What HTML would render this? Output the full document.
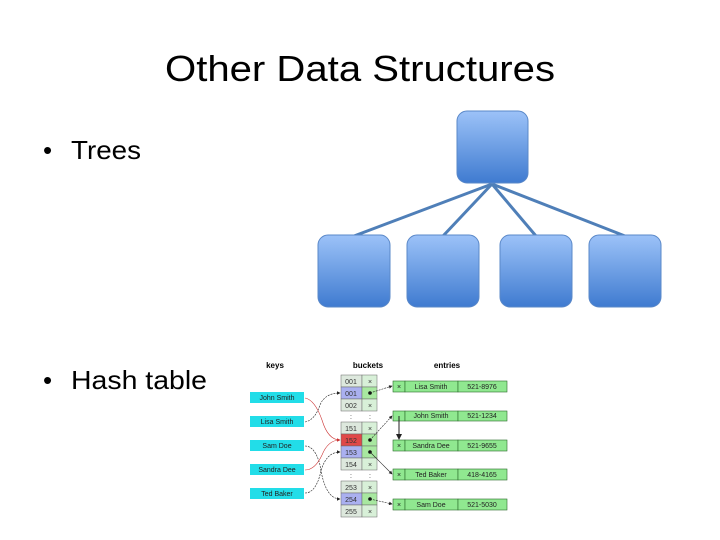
<!DOCTYPE html>
<html><head><meta charset="utf-8"><style>body{margin:0;background:#fff}svg{display:block}</style></head><body>
<svg width="720" height="540" viewBox="0 0 720 540" xmlns="http://www.w3.org/2000/svg" font-family="Liberation Sans, sans-serif">
<defs>
<linearGradient id="g" x1="0" y1="0" x2="0" y2="1"><stop offset="0" stop-color="#9cc2f8"/><stop offset="1" stop-color="#3f7bd0"/></linearGradient>
<marker id="a" markerWidth="6" markerHeight="6" refX="5" refY="3" orient="auto"><path d="M0,0L6,3L0,6z" fill="#222"/></marker>
<marker id="ar" markerWidth="6" markerHeight="6" refX="5" refY="3" orient="auto"><path d="M0,0L6,3L0,6z" fill="#c33"/></marker>
</defs>
<text x="360" y="81" font-size="36" text-anchor="middle" textLength="390" lengthAdjust="spacingAndGlyphs">Other Data Structures</text>
<text x="43" y="159" font-size="26">•</text><text x="71" y="159" font-size="26" textLength="70" lengthAdjust="spacingAndGlyphs">Trees</text>
<text x="43" y="389" font-size="26">•</text><text x="71" y="389" font-size="26" textLength="136" lengthAdjust="spacingAndGlyphs">Hash table</text>
<g stroke="#4f7fb8" stroke-width="3">
<line x1="492" y1="184" x2="354" y2="236"/><line x1="492" y1="184" x2="443" y2="236"/><line x1="492" y1="184" x2="536" y2="236"/><line x1="492" y1="184" x2="625" y2="236"/>
</g>
<g fill="url(#g)" stroke="#5a88c8" stroke-width="1">
<rect x="457" y="111" width="71" height="72" rx="10"/>
<rect x="318" y="235" width="72" height="72" rx="10"/>
<rect x="407" y="235" width="72" height="72" rx="10"/>
<rect x="500" y="235" width="72" height="72" rx="10"/>
<rect x="589" y="235" width="72" height="72" rx="10"/>
</g>
<g font-size="8" font-weight="bold" text-anchor="middle"><text x="275" y="368">keys</text><text x="368" y="368">buckets</text><text x="447" y="368">entries</text></g>
<g font-size="7" text-anchor="middle" fill="#222">
<g fill="#22dde8"><rect x="250" y="392" width="54" height="11"/><rect x="250" y="416" width="54" height="11"/><rect x="250" y="440" width="54" height="11"/><rect x="250" y="464" width="54" height="11"/><rect x="250" y="488" width="54" height="11"/></g>
<text x="277" y="400">John Smith</text><text x="277" y="424">Lisa Smith</text><text x="277" y="448">Sam Doe</text><text x="277" y="472">Sandra Dee</text><text x="277" y="496">Ted Baker</text>
</g>
<g font-size="7" text-anchor="middle" stroke="#666" stroke-width="0.5">
<rect x="341" y="375" width="21" height="12" fill="#dde8dd"/><rect x="362" y="375" width="15" height="12" fill="#d8f0d8"/>
<rect x="341" y="387" width="21" height="12" fill="#aab0f0"/><rect x="362" y="387" width="15" height="12" fill="#a8e8a0"/>
<rect x="341" y="399" width="21" height="12" fill="#dde8dd"/><rect x="362" y="399" width="15" height="12" fill="#d8f0d8"/>
<rect x="341" y="422" width="21" height="12" fill="#dde8dd"/><rect x="362" y="422" width="15" height="12" fill="#d8f0d8"/>
<rect x="341" y="434" width="21" height="12" fill="#e04848"/><rect x="362" y="434" width="15" height="12" fill="#a8e8a0"/>
<rect x="341" y="446" width="21" height="12" fill="#aab0f0"/><rect x="362" y="446" width="15" height="12" fill="#a8e8a0"/>
<rect x="341" y="458" width="21" height="12" fill="#dde8dd"/><rect x="362" y="458" width="15" height="12" fill="#d8f0d8"/>
<rect x="341" y="481" width="21" height="12" fill="#dde8dd"/><rect x="362" y="481" width="15" height="12" fill="#d8f0d8"/>
<rect x="341" y="493" width="21" height="12" fill="#aab0f0"/><rect x="362" y="493" width="15" height="12" fill="#a8e8a0"/>
<rect x="341" y="505" width="21" height="12" fill="#dde8dd"/><rect x="362" y="505" width="15" height="12" fill="#d8f0d8"/>
</g>
<g font-size="7" text-anchor="middle" fill="#333">
<text x="351" y="384">001</text><text x="351" y="396">001</text><text x="351" y="408">002</text><text x="351" y="419">:</text><text x="370" y="419">:</text>
<text x="351" y="431">151</text><text x="351" y="443">152</text><text x="351" y="455">153</text><text x="351" y="467">154</text><text x="351" y="478">:</text><text x="370" y="478">:</text>
<text x="351" y="490">253</text><text x="351" y="502">254</text><text x="351" y="514">255</text>
<text x="370" y="384">×</text><text x="370" y="408">×</text><text x="370" y="431">×</text><text x="370" y="467">×</text><text x="370" y="490">×</text><text x="370" y="514">×</text>
</g>
<g fill="#111"><circle cx="370" cy="393" r="1.8"/><circle cx="370" cy="440" r="1.8"/><circle cx="370" cy="452" r="1.8"/><circle cx="370" cy="499" r="1.8"/><circle cx="399" cy="416" r="1.8"/></g>
<g stroke="#2a6a2a" stroke-width="0.6" fill="#90e890">
<rect x="393" y="381" width="12" height="11"/><rect x="405" y="381" width="53" height="11"/><rect x="458" y="381" width="49" height="11"/>
<rect x="393" y="411" width="12" height="10"/><rect x="405" y="411" width="53" height="10"/><rect x="458" y="411" width="49" height="10"/>
<rect x="393" y="440" width="12" height="11"/><rect x="405" y="440" width="53" height="11"/><rect x="458" y="440" width="49" height="11"/>
<rect x="393" y="469" width="12" height="11"/><rect x="405" y="469" width="53" height="11"/><rect x="458" y="469" width="49" height="11"/>
<rect x="393" y="499" width="12" height="11"/><rect x="405" y="499" width="53" height="11"/><rect x="458" y="499" width="49" height="11"/>
</g>
<g font-size="7" text-anchor="middle" fill="#222">
<text x="399" y="389">×</text><text x="431" y="389">Lisa Smith</text><text x="482" y="389">521-8976</text>
<text x="431" y="418">John Smith</text><text x="482" y="418">521-1234</text>
<text x="399" y="448">×</text><text x="431" y="448">Sandra Dee</text><text x="482" y="448">521-9655</text>
<text x="399" y="477">×</text><text x="431" y="477">Ted Baker</text><text x="482" y="477">418-4165</text>
<text x="399" y="507">×</text><text x="431" y="507">Sam Doe</text><text x="482" y="507">521-5030</text>
</g>
<g fill="none" stroke="#222" stroke-width="0.6">
<path d="M370 393 L392 386" marker-end="url(#a)" stroke-dasharray="2,1"/>
<path d="M370 440 L392 416" marker-end="url(#a)" stroke-dasharray="2,1"/>
<path d="M370 452 L392 474" marker-end="url(#a)"/>
<path d="M370 499 L392 504" marker-end="url(#a)" stroke-dasharray="2,1"/>
<path d="M399 416 L399 439" marker-end="url(#a)" stroke-width="1"/>
<path d="M305 422 Q315 420 320 405 Q325 393 340 393" marker-end="url(#a)" stroke-dasharray="2,1"/>
<path d="M305 446 Q315 446 320 465 Q325 499 340 499" marker-end="url(#a)" stroke-dasharray="2,1"/>
<path d="M305 493 Q315 493 320 475 Q325 452 340 452" marker-end="url(#a)" stroke-dasharray="2,1"/>
</g>
<g fill="none" stroke="#c33" stroke-width="0.6">
<path d="M305 398 Q315 400 322 420 Q328 440 340 440" marker-end="url(#ar)"/>
<path d="M305 470 Q315 470 322 455 Q328 440 340 440"/>
</g>
</svg>
</body></html>
